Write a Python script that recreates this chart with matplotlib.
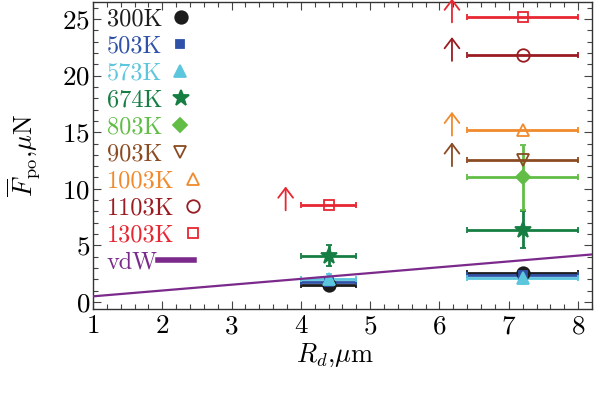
import numpy as np
import matplotlib
matplotlib.use('Agg')
from matplotlib import pyplot as plt
from matplotlib.lines import Line2D
from matplotlib.ticker import MultipleLocator

plt.rcParams['font.family'] = 'serif'
plt.rcParams['font.serif'] = ['cmr10', 'DejaVu Serif']
plt.rcParams['mathtext.fontset'] = 'cm'
plt.rcParams['axes.formatter.use_mathtext'] = True

# temperature series
temps   = ['300K', '503K', '573K', '674K', '803K', '903K', '1003K', '1103K', '1303K']
colors  = ['#1c1c1c', '#2f52a8', '#5cc6dc', '#177e43', '#62bd46', '#8a4b22', '#f08a2c', '#9a1c22', '#e82632']
markers = ['o', 's', '^', '*', 'D', 'v', '^', 'o', 's']
msizes  = [9, 5.5, 8, 12, 7, 8, 8, 9, 7]
filled  = [True, True, True, True, True, False, False, False, False]

# droplets with R_d = 4.4 +- 0.4 um
small_R = 4.4
small_Rerr = 0.4
small_T     = ['300K', '503K', '573K', '674K', '1303K']
small_F     = [1.5, 1.8, 2.0, 4.1, 8.6]
small_Ferr  = [0.2, 0.2, 0.5, 0.9, 0.0]
small_lower = [False, False, False, False, True]

# droplets with R_d = 7.2 +- 0.8 um
large_R = 7.2
large_Rerr = 0.8
large_T     = ['300K', '503K', '573K', '674K', '803K', '903K', '1003K', '1103K', '1303K']
large_F     = [2.6, 2.4, 2.1, 6.4, 11.0, 12.5, 15.2, 21.8, 25.2]
large_Ferr  = [0.2, 0.2, 0.5, 1.6, 2.9, 0.0, 0.0, 0.0, 0.0]
large_lower = [False, False, False, False, False, True, True, True, True]

# van der Waals estimate
vdw_R = [1.0, 8.2]
vdw_F = [0.5, 4.2]

fig = plt.figure(figsize=(6.03, 3.94), dpi=100)
ax = fig.add_axes([0.1542, 0.2157, 0.8275, 0.7792])

ax.plot(vdw_R, vdw_F, color='#7b2a8c', lw=1.6, zorder=3)

def draw_group(R, Rerr, T, F, Ferr, lower):
    for t, f, fe, lo in zip(T, F, Ferr, lower):
        i = temps.index(t)
        c = colors[i]
        ax.errorbar(R, f, xerr=Rerr, yerr=fe if fe > 0 else None,
                    fmt=markers[i], ms=msizes[i], color=c, ecolor=c,
                    mfc=c if filled[i] else 'none', mec=c, mew=1.3,
                    elinewidth=2.0, capsize=2.5, capthick=2.0, zorder=2)
        if lo:
            xa = R - Rerr - 0.22
            ax.annotate('', xy=(xa, f + 1.6), xytext=(xa, f - 0.5),
                        annotation_clip=False,
                        arrowprops=dict(arrowstyle='->,head_length=0.5,head_width=0.38',
                                        color=c, lw=1.3, mutation_scale=14,
                                        shrinkA=0, shrinkB=0))

draw_group(small_R, small_Rerr, small_T, small_F, small_Ferr, small_lower)
draw_group(large_R, large_Rerr, large_T, large_F, large_Ferr, large_lower)

ax.set_xlim(1, 8.2)
ax.set_ylim(-0.62, 26.5)
ax.xaxis.set_major_locator(MultipleLocator(1))
ax.xaxis.set_minor_locator(MultipleLocator(0.2))
ax.yaxis.set_major_locator(MultipleLocator(5))
ax.yaxis.set_minor_locator(MultipleLocator(1))
ax.tick_params(which='both', direction='in', top=True, right=True, width=0.8, color='#444444')
ax.tick_params(which='major', length=6)
ax.tick_params(which='minor', length=3.5)
ax.tick_params(axis='x', labelsize=19.5, pad=4)
ax.tick_params(axis='y', labelsize=19.5, pad=2)
for s in ax.spines.values():
    s.set_linewidth(1.0)
    s.set_color('#333333')

ax.set_xlabel(r'$R_d$,$\mu$m', fontsize=19)
ax.set_ylabel(r'$\overline{F}_{\rm po}$,$\mu$N', fontsize=19)
ax.xaxis.set_label_coords(0.485, -0.105)
ax.yaxis.set_label_coords(-0.102, 0.5)

handles = []
for i, t in enumerate(temps):
    handles.append(Line2D([], [], ls='none', marker=markers[i], ms=msizes[i], color=colors[i],
                          mfc=colors[i] if filled[i] else 'none', mec=colors[i], mew=1.3))
handles.append(Line2D([], [], color='#7b2a8c', lw=4))
leg = ax.legend(handles, temps + ['vdW'], loc='upper left', bbox_to_anchor=(0.018, 0.995),
                frameon=False, markerfirst=False, fontsize=17.5, borderpad=0.2,
                borderaxespad=0, labelspacing=0.2, handlelength=1.5, handletextpad=0.0)
for txt, c in zip(leg.get_texts(), colors + ['#7b2a8c']):
    txt.set_color(c)
# rows left aligned: text first, marker right after it
for col in leg._legend_handle_box.get_children():
    col.align = 'left'

fig.savefig('out.png', dpi=100)
